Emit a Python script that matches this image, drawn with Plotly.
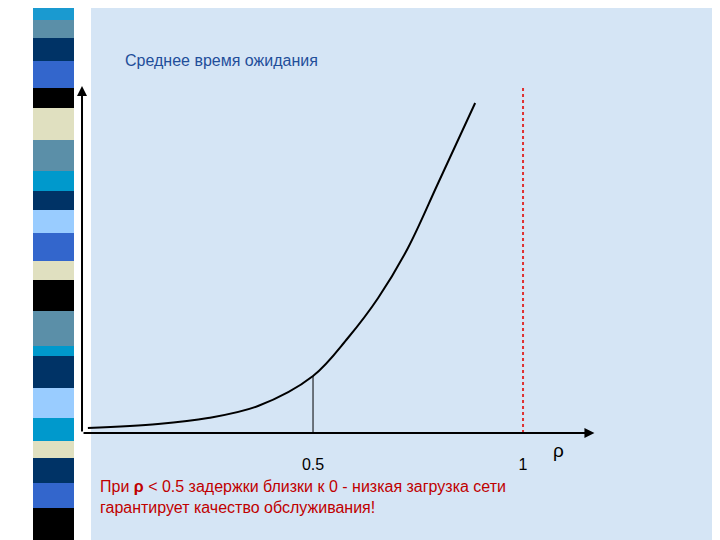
import plotly.graph_objects as go

rho = [-0.036, 0.131, 0.25, 0.369, 0.5, 0.583, 0.655, 0.726, 0.798, 0.886]
wait = [5, 9, 15, 27, 57, 95, 135, 185, 250, 330]
tick_vals = [0.5, 1]
tick_text = ["0.5", "1"]
stripe_edges = [0, 12, 30, 53, 80, 100, 132, 163, 183, 202, 225, 253, 272, 303, 338, 348, 380, 410, 433, 450, 475, 500, 540]
stripe_colors = ["#1a9ad0", "#5b8fa8", "#003366", "#3366cc", "#000000", "#e0e0c0", "#5b8fa8",
                 "#0099cc", "#003366", "#99ccff", "#3366cc", "#e0e0c0", "#000000", "#5b8fa8",
                 "#0099cc", "#003366", "#99ccff", "#0099cc", "#e0e0c0", "#003366", "#3366cc", "#000000"]

W, H = 720, 540
fig = go.Figure()
fig.add_trace(go.Scatter(x=rho, y=wait, mode="lines", line=dict(color="black", width=2, shape="spline"),
                         hoverinfo="skip"))
i05 = rho.index(0.5)
fig.add_trace(go.Scatter(x=[0.5, 0.5], y=[0, wait[i05]], mode="lines", line=dict(color="black", width=1)))
fig.add_trace(go.Scatter(x=[1, 1], y=[0, 347], mode="lines", line=dict(color="#e03030", width=2, dash="dot")))

shapes = [dict(type="rect", xref="paper", yref="paper", x0=83 / W, x1=1, y0=0, y1=1,
               fillcolor="#d5e5f5", line_width=0, layer="below")]
for i, c in enumerate(stripe_colors):
    shapes.append(dict(type="rect", xref="paper", yref="paper", x0=25 / W, x1=66 / W,
                       y0=1 - stripe_edges[i + 1] / H, y1=1 - stripe_edges[i] / H,
                       fillcolor=c, line_width=0, layer="below"))

anns = [
    dict(x=1.17, y=0, ax=-0.05, ay=0, xref="x", yref="y", axref="x", ayref="y",
         showarrow=True, arrowhead=2, arrowsize=1, arrowwidth=2, arrowcolor="black", text=""),
    dict(x=-0.05, y=347, ax=-0.05, ay=0, xref="x", yref="y", axref="x", ayref="y",
         showarrow=True, arrowhead=2, arrowsize=1, arrowwidth=2, arrowcolor="black", text=""),
    dict(x=115 / W, y=1 - 42 / H, xref="paper", yref="paper", xanchor="left", showarrow=False,
         text="Среднее время ожидания", font=dict(size=16, color="#1f4e9a")),
    dict(x=558 / W, y=1 - 455 / H, xref="paper", yref="paper", showarrow=False,
         text="ρ", font=dict(size=19, color="black")),
    dict(x=90 / W, y=1 - 510 / H, xref="paper", yref="paper", xanchor="left", align="left", showarrow=False,
         text="При <b>ρ</b> < 0.5 задержки близки к 0 - низкая загрузка сети<br>гарантирует качество обслуживания!",
         font=dict(size=16, color="#c00000")),
]

fig.update_layout(
    width=W, height=H, showlegend=False, paper_bgcolor="white", plot_bgcolor="rgba(0,0,0,0)",
    margin=dict(l=0, r=0, t=0, b=0), shapes=shapes, annotations=anns,
    font=dict(family="Liberation Sans, Arial, sans-serif"),
    xaxis=dict(domain=[73 / W, 1], range=[-0.0524, 1.488], showgrid=False, zeroline=False, showline=False,
               tickvals=tick_vals, ticktext=tick_text, ticks="", ticklabelstandoff=20,
               tickfont=dict(size=16, color="black")),
    yaxis=dict(domain=[115 / H, 1], range=[0, 425], showgrid=False, zeroline=False, showline=False,
               showticklabels=False),
)
fig.write_html("out.html")
